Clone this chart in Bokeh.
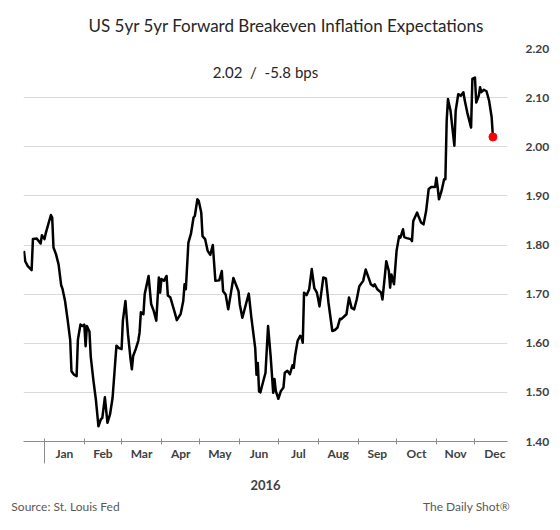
from datetime import datetime
import pandas as pd
from bokeh.plotting import figure
from bokeh.models import (Range1d, FixedTicker, DatetimeTickFormatter, PrintfTickFormatter,
                          Label, DatetimeAxis, LinearAxis, ColumnDataSource)
from bokeh.embed import file_html
from bokeh.resources import INLINE

# ---------------- data ----------------
dates = [
    "2015-12-16", "2015-12-17", "2015-12-19", "2015-12-22", "2015-12-23", "2015-12-26",
    "2015-12-29", "2015-12-30", "2016-01-01", "2016-01-02", "2016-01-06", "2016-01-07",
    "2016-01-08", "2016-01-10", "2016-01-12", "2016-01-14", "2016-01-15", "2016-01-17",
    "2016-01-19", "2016-01-21", "2016-01-22", "2016-01-24", "2016-01-26", "2016-01-27",
    "2016-01-29", "2016-01-31", "2016-02-01", "2016-02-02", "2016-02-03", "2016-02-05",
    "2016-02-06", "2016-02-08", "2016-02-10", "2016-02-12", "2016-02-14", "2016-02-15",
    "2016-02-17", "2016-02-19", "2016-02-21", "2016-02-23", "2016-02-26", "2016-02-28",
    "2016-03-01", "2016-03-02", "2016-03-04", "2016-03-06", "2016-03-08", "2016-03-09",
    "2016-03-10", "2016-03-12", "2016-03-14", "2016-03-15", "2016-03-16", "2016-03-18",
    "2016-03-19", "2016-03-22", "2016-03-24", "2016-03-26", "2016-03-28", "2016-03-30",
    "2016-03-31", "2016-04-01", "2016-04-03", "2016-04-05", "2016-04-06", "2016-04-08",
    "2016-04-11", "2016-04-13", "2016-04-16", "2016-04-18", "2016-04-19", "2016-04-20",
    "2016-04-22", "2016-04-24", "2016-04-26", "2016-04-27", "2016-04-29", "2016-04-30",
    "2016-05-02", "2016-05-03", "2016-05-05", "2016-05-07", "2016-05-09", "2016-05-11",
    "2016-05-13", "2016-05-16", "2016-05-18", "2016-05-19", "2016-05-21", "2016-05-23",
    "2016-05-27", "2016-05-31", "2016-06-01", "2016-06-03", "2016-06-06", "2016-06-08",
    "2016-06-10", "2016-06-13", "2016-06-14", "2016-06-15", "2016-06-16", "2016-06-17",
    "2016-06-19", "2016-06-21", "2016-06-23", "2016-06-25", "2016-06-27", "2016-06-28",
    "2016-06-29", "2016-07-01", "2016-07-03", "2016-07-05", "2016-07-06", "2016-07-08",
    "2016-07-10", "2016-07-12", "2016-07-13", "2016-07-14", "2016-07-16", "2016-07-18",
    "2016-07-19", "2016-07-20", "2016-07-21", "2016-07-23", "2016-07-25", "2016-07-27",
    "2016-07-29", "2016-07-31", "2016-08-01", "2016-08-02", "2016-08-05", "2016-08-07",
    "2016-08-09", "2016-08-12", "2016-08-14", "2016-08-16", "2016-08-18", "2016-08-19",
    "2016-08-23", "2016-08-25", "2016-08-27", "2016-08-29", "2016-08-31", "2016-09-02",
    "2016-09-05", "2016-09-07", "2016-09-09", "2016-09-11", "2016-09-13", "2016-09-14",
    "2016-09-16", "2016-09-19", "2016-09-20", "2016-09-22", "2016-09-23", "2016-09-25",
    "2016-09-26", "2016-09-27", "2016-09-29", "2016-10-01", "2016-10-03", "2016-10-04",
    "2016-10-06", "2016-10-07", "2016-10-09", "2016-10-12", "2016-10-13", "2016-10-14",
    "2016-10-17", "2016-10-18", "2016-10-20", "2016-10-22", "2016-10-24", "2016-10-26",
    "2016-10-28", "2016-10-31", "2016-11-01", "2016-11-02", "2016-11-03", "2016-11-05",
    "2016-11-07", "2016-11-08", "2016-11-09", "2016-11-10", "2016-11-12", "2016-11-15",
    "2016-11-16", "2016-11-18", "2016-11-20", "2016-11-22", "2016-11-23", "2016-11-25",
    "2016-11-28", "2016-11-29", "2016-12-01", "2016-12-02", "2016-12-04", "2016-12-05",
    "2016-12-06", "2016-12-08", "2016-12-10", "2016-12-12", "2016-12-14", "2016-12-15",
]
values = [
    1.788, 1.767, 1.757, 1.749, 1.812, 1.813,
    1.803, 1.820, 1.812, 1.824, 1.861, 1.856,
    1.795, 1.781, 1.760, 1.718, 1.711, 1.686,
    1.648, 1.607, 1.543, 1.536, 1.533, 1.607,
    1.638, 1.635, 1.638, 1.594, 1.635, 1.624,
    1.573, 1.526, 1.485, 1.431, 1.446, 1.448,
    1.490, 1.438, 1.455, 1.489, 1.595, 1.590,
    1.588, 1.646, 1.686, 1.618, 1.567, 1.547,
    1.574, 1.588, 1.605, 1.622, 1.663, 1.659,
    1.700, 1.737, 1.680, 1.666, 1.646, 1.734,
    1.703, 1.731, 1.727, 1.737, 1.697, 1.693,
    1.666, 1.647, 1.660, 1.686, 1.720, 1.710,
    1.805, 1.823, 1.856, 1.859, 1.893, 1.890,
    1.866, 1.818, 1.812, 1.788, 1.780, 1.800,
    1.727, 1.728, 1.747, 1.706, 1.699, 1.669,
    1.733, 1.706, 1.679, 1.652, 1.682, 1.701,
    1.652, 1.590, 1.536, 1.560, 1.502, 1.500,
    1.520, 1.540, 1.635, 1.574, 1.499, 1.527,
    1.503, 1.487, 1.503, 1.510, 1.540, 1.544,
    1.537, 1.555, 1.550, 1.574, 1.605, 1.615,
    1.612, 1.601, 1.703, 1.698, 1.710, 1.751,
    1.712, 1.703, 1.690, 1.675, 1.734, 1.732,
    1.683, 1.625, 1.627, 1.632, 1.650, 1.649,
    1.659, 1.693, 1.672, 1.669, 1.689, 1.716,
    1.727, 1.750, 1.735, 1.720, 1.716, 1.720,
    1.710, 1.703, 1.689, 1.740, 1.767, 1.747,
    1.713, 1.740, 1.720, 1.788, 1.818, 1.815,
    1.832, 1.816, 1.814, 1.812, 1.808, 1.849,
    1.866, 1.859, 1.846, 1.842, 1.869, 1.914,
    1.918, 1.918, 1.937, 1.917, 1.893, 1.910,
    1.934, 1.934, 2.053, 2.097, 2.073, 2.002,
    2.073, 2.107, 2.104, 2.111, 2.095, 2.070,
    2.039, 2.138, 2.141, 2.090, 2.104, 2.121,
    2.111, 2.116, 2.113, 2.094, 2.060, 2.020,
]
month_labels = ["Jan", "Feb", "Mar", "Apr", "May", "Jun",
                "Jul", "Aug", "Sep", "Oct", "Nov", "Dec"]
y_ticks = [1.40, 1.50, 1.60, 1.70, 1.80, 1.90, 2.00, 2.10, 2.20]
year_label = "2016"
last_value = 2.02
change_bps = -5.8
title_text = "US 5yr 5yr Forward Breakeven Inflation Expectations"
source_text = "Source: St. Louis Fed"
brand_text = "The Daily Shot\u00ae"

# ---------------- helpers ----------------
def ms(dt):
    return (dt - datetime(1970, 1, 1)).total_seconds() * 1000.0

month_starts = [datetime(2016, m, 1) for m in range(1, 13)]
month_ends = month_starts[1:] + [datetime(2017, 1, 1)]
month_mids = [s + (e - s) / 2 for s, e in zip(month_starts, month_ends)]

src = ColumnDataSource(dict(date=pd.to_datetime(dates), value=values))

FONT = "Lato"
TXT = "#404040"
AXIS = "#8c8c8c"

x_start = datetime(2015, 12, 15, 16)
x_end = datetime(2016, 12, 26, 8)
y_lo, y_hi = 1.40, 2.20
px_y = (y_hi - y_lo) / 393.0
FRAME_L, FRAME_R = 23, 507

p = figure(width=560, height=530, output_backend="svg", toolbar_location=None,
           x_axis_type="datetime", y_axis_location="right",
           x_range=Range1d(x_start, x_end), y_range=Range1d(y_lo, y_hi),
           min_border_left=FRAME_L, min_border_right=560 - FRAME_R,
           min_border_top=48, min_border_bottom=89,
           background_fill_color="white", border_fill_color="white", outline_line_color=None)
# pixel-valued helper range for the footer axis (maps frame edges to canvas pixels)
p.extra_x_ranges = {"px": Range1d(FRAME_L, FRAME_R)}

# title
p.title.text = title_text
p.title.align = "left"
p.title.offset = 65
p.title.standoff = 25
p.title.text_font = FONT
p.title.text_font_size = "17px"
p.title.text_font_style = "normal"
p.title.text_color = "#262626"

# x axis A (closest): axis line, month-start ticks, long year tick at Jan 1
ax = p.xaxis[0]
ax.ticker = FixedTicker(ticks=[ms(month_starts[0])],
                        minor_ticks=[ms(d) for d in month_starts[1:]])
ax.major_tick_in = 3
ax.major_tick_out = 22
ax.major_tick_line_color = AXIS
ax.minor_tick_in = 3
ax.minor_tick_out = 3
ax.minor_tick_line_color = AXIS
ax.axis_line_color = AXIS
ax.major_label_text_font_size = "0px"
ax.major_label_text_color = None
ax.major_label_standoff = 0

# x axis B: month names at mid-month plus the year
fmt = "%b"
bx = DatetimeAxis(ticker=FixedTicker(ticks=[ms(d) for d in month_mids]),
                  formatter=DatetimeTickFormatter(milliseconds=fmt, seconds=fmt, minsec=fmt,
                                                  minutes=fmt, hourmin=fmt, hours=fmt,
                                                  days=fmt, months=fmt, years=fmt),
                  axis_line_color=None, major_tick_line_color=None, minor_tick_line_color=None,
                  major_tick_in=0, major_tick_out=0, minor_tick_in=0, minor_tick_out=0,
                  major_label_standoff=-18,
                  major_label_text_font=FONT, major_label_text_font_size="12px",
                  major_label_text_font_style="bold", major_label_text_color=TXT,
                  axis_label=year_label, axis_label_standoff=16,
                  axis_label_text_font=FONT, axis_label_text_font_size="13px",
                  axis_label_text_font_style="bold", axis_label_text_color=TXT)
p.add_layout(bx, "below")

# footer line: source (left) and brand (right)
src_center = 11 + 54
brand_center = 511 - 45
cx = LinearAxis(x_range_name="px", ticker=FixedTicker(ticks=[src_center, brand_center]),
                major_label_overrides={src_center: source_text, brand_center: brand_text},
                axis_line_color=None, major_tick_line_color=None, minor_tick_line_color=None,
                major_tick_in=0, major_tick_out=0, minor_tick_in=0, minor_tick_out=0,
                major_label_standoff=6,
                major_label_text_font=FONT, major_label_text_font_size="12px",
                major_label_text_font_style="normal", major_label_text_color="#595959")
p.add_layout(cx, "below")

# y axis (right): labels only
p.yaxis.ticker = FixedTicker(ticks=y_ticks)
p.yaxis.formatter = PrintfTickFormatter(format="%.2f")
p.yaxis.axis_line_color = None
p.yaxis.major_tick_line_color = None
p.yaxis.minor_tick_line_color = None
p.yaxis.major_label_text_font = FONT
p.yaxis.major_label_text_font_size = "12px"
p.yaxis.major_label_text_font_style = "bold"
p.yaxis.major_label_text_color = TXT
p.yaxis.major_label_standoff = 12

p.xgrid.visible = False
p.ygrid.ticker = FixedTicker(ticks=y_ticks)
p.ygrid.grid_line_color = "#d9d9d9"
p.ygrid.grid_line_width = 1

# series
p.line(x="date", y="value", source=src, line_color="black", line_width=2.5, line_join="round")
p.scatter(x=[pd.to_datetime(dates[-1])], y=[values[-1]], size=8, color="red", line_color="red")

# annotation inside the plot
x_mid = x_start + (x_end - x_start) / 2
p.add_layout(Label(x=ms(x_mid), y=y_hi - 23 * px_y,
                   text=f"{last_value:.2f} \u00a0/ \u00a0{change_bps} bps",
                   text_font=FONT, text_font_size="15px", text_color="#262626",
                   text_align="center", text_baseline="middle"))

open("out.html", "w").write(file_html(p, INLINE))
